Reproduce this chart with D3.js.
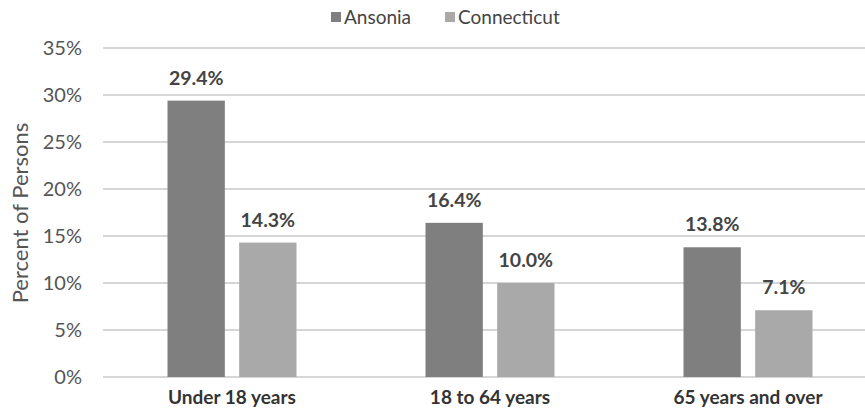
<!DOCTYPE html>
<html><head><meta charset="utf-8">
<script src="https://cdn.jsdelivr.net/npm/d3@7"></script>
<style>body{margin:0;background:#fff}svg{display:block}text{font-family:Lato,"Open Sans",sans-serif}</style>
</head><body><svg id="c" width="865" height="419"></svg>
<script>
const categories = ["Under 18 years", "18 to 64 years", "65 years and over"];
const seriesNames = ["Ansonia", "Connecticut"];
const ansonia = [29.4, 16.4, 13.8];
const connecticut = [14.3, 10.0, 7.1];
const yTicks = [0, 5, 10, 15, 20, 25, 30, 35];
const colors = ["#7f7f7f", "#a9a9a9"];

const svg = d3.select("#c");
const m = {l: 103, r: 877, t: 48, b: 377};
const x = d3.scaleBand().domain(categories).range([m.l, m.r]);
const xs = d3.scaleBand().domain(seriesNames).range([0, 129]).paddingInner(0.2);
const y = d3.scaleLinear().domain([0, 35]).range([m.b, m.t]);

svg.append("g").selectAll("line").data(yTicks).join("line")
  .attr("x1", m.l).attr("x2", 865).attr("y1", d => y(d)).attr("y2", d => y(d))
  .attr("stroke", "#c8c8c8").attr("stroke-width", 1.3);

const yAxis = d3.axisLeft(y).tickValues(yTicks).tickFormat(d => d + "%").tickSize(0).tickPadding(21);
const ga = svg.append("g").attr("transform", `translate(${m.l},0)`).call(yAxis);
ga.select(".domain").remove();
ga.selectAll("text").attr("font-size", 20).attr("fill", "#555").style("font-family", "Lato, sans-serif");

const data = categories.map((c, i) => ({c, vals: [ansonia[i], connecticut[i]]}));
const groups = svg.append("g").selectAll("g").data(data).join("g")
  .attr("transform", d => `translate(${x(d.c) + (x.bandwidth() - 129) / 2},0)`);
groups.selectAll("rect").data(d => d.vals.map((v, j) => ({v, s: seriesNames[j], j}))).join("rect")
  .attr("x", d => xs(d.s)).attr("width", xs.bandwidth())
  .attr("y", d => y(d.v)).attr("height", d => y(0) - y(d.v))
  .attr("fill", d => colors[d.j]);
groups.selectAll("text").data(d => d.vals.map((v, j) => ({v, s: seriesNames[j]}))).join("text")
  .attr("x", d => xs(d.s) + xs.bandwidth() / 2).attr("y", d => y(d.v) - 16)
  .attr("text-anchor", "middle").attr("font-size", 19.5).attr("font-weight", "bold").attr("fill", "#444")
  .text(d => d.v.toFixed(1) + "%");

const xAxis = d3.axisBottom(x).tickSize(0).tickPadding(14);
const gx = svg.append("g").attr("transform", `translate(0,${m.b})`).call(xAxis);
gx.select(".domain").remove();
gx.selectAll("text").attr("font-size", 19).attr("font-weight", "bold").attr("fill", "#333").style("font-family", "Lato, sans-serif");

svg.append("text").attr("transform", "translate(28,213) rotate(-90)")
  .attr("text-anchor", "middle").attr("font-size", 22).attr("fill", "#555").text("Percent of Persons");

const legend = svg.append("g").attr("transform", "translate(331,17)");
const lx = [0, 114];
seriesNames.forEach((s, i) => {
  legend.append("rect").attr("x", lx[i]).attr("y", -5).attr("width", 10).attr("height", 10).attr("fill", colors[i]);
  legend.append("text").attr("x", lx[i] + 13).attr("y", 7).attr("font-size", 19).attr("fill", "#444").text(s);
});
</script></body></html>
